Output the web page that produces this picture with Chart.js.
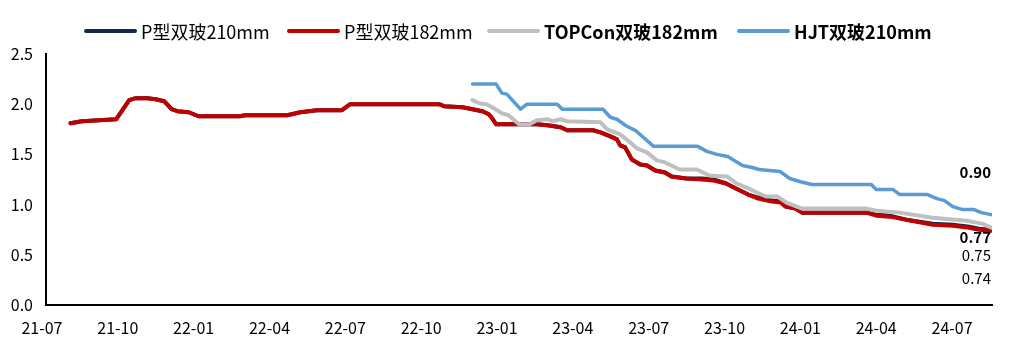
<!DOCTYPE html>
<html>
<head>
<meta charset="utf-8">
<script src="https://cdn.jsdelivr.net/npm/chart.js@4/dist/chart.umd.min.js"></script>
<style>
  html, body { margin: 0; padding: 0; background: #fff; }
  #wrap { width: 1015px; height: 344px; position: relative; }
</style>
</head>
<body>
<div id="wrap"><canvas id="c"></canvas></div>
<script>
// Series names (legend order)
const seriesNames = ['P型双玻210mm', 'P型双玻182mm', 'TOPCon双玻182mm', 'HJT双玻210mm'];

// Quarterly axis labels, starting at 2021-07
const tickLabels = ['21-07', '21-10', '22-01', '22-04', '22-07', '22-10', '23-01',
                    '23-04', '23-07', '23-10', '24-01', '24-04', '24-07'];

// P-type double-glass quotes (yuan/W), shared observation dates
const pDates = [
  '2021-08-05', '2021-08-19', '2021-09-29', '2021-10-15', '2021-10-23', '2021-11-06',
  '2021-11-16', '2021-11-26', '2021-12-05', '2021-12-12', '2021-12-26', '2022-01-07',
  '2022-02-24', '2022-03-02', '2022-04-22', '2022-05-08', '2022-05-28', '2022-06-27',
  '2022-07-07', '2022-10-23', '2022-10-29', '2022-11-20', '2022-12-02', '2022-12-14',
  '2022-12-22', '2022-12-26', '2022-12-31', '2023-02-17', '2023-03-01', '2023-03-17',
  '2023-03-25', '2023-04-25', '2023-05-04', '2023-05-16', '2023-05-24', '2023-05-28',
  '2023-06-03', '2023-06-11', '2023-06-21', '2023-06-29', '2023-07-09', '2023-07-21',
  '2023-07-29', '2023-08-16', '2023-09-04', '2023-09-18', '2023-10-03', '2023-10-15',
  '2023-10-30', '2023-11-11', '2023-11-27', '2023-12-08', '2023-12-14', '2023-12-26',
  '2024-01-03', '2024-03-20', '2024-04-01', '2024-04-17', '2024-05-07', '2024-06-08',
  '2024-07-02', '2024-07-22', '2024-08-03', '2024-08-18'
];
const p210Values = [
  1.81, 1.83, 1.85, 2.04, 2.06, 2.06,
  2.05, 2.03, 1.95, 1.93, 1.92, 1.88,
  1.88, 1.89, 1.89, 1.92, 1.94, 1.94,
  2.00, 2.00, 1.98, 1.97, 1.95, 1.93,
  1.90, 1.86, 1.80, 1.80, 1.79, 1.77,
  1.74, 1.74, 1.72, 1.68, 1.65, 1.59,
  1.57, 1.45, 1.40, 1.39, 1.34, 1.32,
  1.28, 1.26, 1.26, 1.25, 1.21, 1.16,
  1.10, 1.07, 1.04, 1.03, 0.98, 0.96,
  0.92, 0.92, 0.90, 0.89, 0.85, 0.81,
  0.80, 0.78, 0.76, 0.75
];
const p182Values = [
  1.81, 1.83, 1.85, 2.04, 2.06, 2.06,
  2.05, 2.03, 1.95, 1.93, 1.92, 1.88,
  1.88, 1.89, 1.89, 1.92, 1.94, 1.94,
  2.00, 2.00, 1.98, 1.97, 1.95, 1.93,
  1.90, 1.86, 1.80, 1.80, 1.79, 1.77,
  1.74, 1.74, 1.72, 1.68, 1.65, 1.59,
  1.57, 1.45, 1.40, 1.39, 1.34, 1.32,
  1.28, 1.26, 1.25, 1.24, 1.21, 1.16,
  1.10, 1.06, 1.03, 1.02, 0.98, 0.96,
  0.92, 0.92, 0.89, 0.88, 0.85, 0.80,
  0.79, 0.77, 0.75, 0.74
];

// TOPCon double-glass 182mm
const topconDates = [
  '2022-12-02', '2022-12-10', '2022-12-19', '2022-12-26', '2023-01-07', '2023-01-15',
  '2023-01-28', '2023-02-09', '2023-02-17', '2023-03-01', '2023-03-07', '2023-03-17',
  '2023-03-25', '2023-05-04', '2023-05-12', '2023-05-28', '2023-06-09', '2023-06-17',
  '2023-06-29', '2023-07-11', '2023-07-21', '2023-08-08', '2023-08-29', '2023-09-13',
  '2023-10-04', '2023-10-16', '2023-10-28', '2023-11-12', '2023-11-21', '2023-12-04',
  '2023-12-15', '2024-01-03', '2024-03-20', '2024-04-01', '2024-04-29', '2024-06-08',
  '2024-07-19', '2024-08-07', '2024-08-18'
];
const topconValues = [
  2.04, 2.01, 2.00, 1.97, 1.91, 1.89,
  1.80, 1.80, 1.84, 1.85, 1.83, 1.85,
  1.83, 1.82, 1.75, 1.70, 1.62, 1.56,
  1.52, 1.44, 1.42, 1.35, 1.35, 1.29,
  1.28, 1.21, 1.17, 1.11, 1.08, 1.08,
  1.02, 0.96, 0.96, 0.94, 0.92, 0.87,
  0.84, 0.81, 0.77
];

// HJT double-glass 210mm
const hjtDates = [
  '2022-12-02', '2022-12-31', '2023-01-07', '2023-01-13', '2023-01-30', '2023-02-06',
  '2023-03-13', '2023-03-19', '2023-05-07', '2023-05-16', '2023-05-24', '2023-06-05',
  '2023-06-15', '2023-07-07', '2023-08-30', '2023-09-10', '2023-09-22', '2023-10-05',
  '2023-10-23', '2023-11-04', '2023-11-12', '2023-12-07', '2023-12-19', '2023-12-31',
  '2024-01-15', '2024-03-26', '2024-04-01', '2024-04-21', '2024-04-29', '2024-06-02',
  '2024-06-13', '2024-06-22', '2024-07-02', '2024-07-14', '2024-07-28', '2024-08-06',
  '2024-08-18'
];
const hjtValues = [
  2.20, 2.20, 2.11, 2.10, 1.95, 2.00,
  2.00, 1.95, 1.95, 1.87, 1.85, 1.78,
  1.74, 1.58, 1.58, 1.53, 1.50, 1.48,
  1.39, 1.37, 1.35, 1.33, 1.26, 1.23,
  1.20, 1.20, 1.15, 1.15, 1.10, 1.10,
  1.06, 1.04, 0.98, 0.95, 0.95, 0.92,
  0.90
];

// Convert 'YYYY-MM-DD' to fractional months since 2021-07-01
function toMonths(s) {
  const [y, m, d] = s.split('-').map(Number);
  const dim = new Date(y, m, 0).getDate();
  return (y - 2021) * 12 + (m - 7) + (d - 1) / dim;
}
function toPoints(dates, values) {
  return dates.map((d, i) => ({ x: toMonths(d), y: values[i] }));
}

const FONT = '"Noto Sans CJK SC", "Noto Sans", sans-serif';
const colors = ['#0F2A4E', '#C00000', '#BFBFBF', '#5B9BD5'];

// Legend drawn on canvas so that individual entries can be bold
const legendPlugin = {
  id: 'customLegend',
  afterDraw(chart, args, opts) {
    const ctx = chart.ctx;
    ctx.save();
    chart.data.datasets.forEach((ds, i) => {
      const x0 = opts.starts[i];
      const y = opts.y;
      ctx.strokeStyle = ds.borderColor;
      ctx.lineWidth = 4;
      ctx.lineCap = 'round';
      ctx.beginPath();
      ctx.moveTo(x0 + 2, y);
      ctx.lineTo(x0 + opts.lineLen - 2, y);
      ctx.stroke();
      ctx.font = (opts.bold[i] ? 'bold ' : '') + opts.size + 'px ' + FONT;
      ctx.fillStyle = '#000';
      ctx.textBaseline = 'middle';
      ctx.textAlign = 'left';
      ctx.fillText(ds.label, x0 + opts.lineLen + opts.gap, y + 1);
    });
    ctx.restore();
  }
};

// Last-value labels near the right edge
const endLabelPlugin = {
  id: 'endLabels',
  afterDatasetsDraw(chart, args, opts) {
    const ctx = chart.ctx;
    ctx.save();
    chart.data.datasets.forEach((ds, i) => {
      const meta = chart.getDatasetMeta(i);
      const last = meta.data[meta.data.length - 1];
      const val = ds.data[ds.data.length - 1].y;
      ctx.font = (opts.bold[i] ? 'bold ' : '') + opts.size + 'px ' + FONT;
      ctx.fillStyle = '#000';
      ctx.textAlign = 'right';
      ctx.textBaseline = 'middle';
      ctx.fillText(val.toFixed(2), chart.chartArea.right - 1, last.y + opts.dy[i]);
    });
    ctx.restore();
  }
};

const datasets = [
  { label: seriesNames[0], data: toPoints(pDates, p210Values), borderColor: colors[0], borderWidth: 4, order: 4 },
  { label: seriesNames[1], data: toPoints(pDates, p182Values), borderColor: colors[1], borderWidth: 4, order: 3 },
  { label: seriesNames[2], data: toPoints(topconDates, topconValues), borderColor: colors[2], borderWidth: 4, order: 2 },
  { label: seriesNames[3], data: toPoints(hjtDates, hjtValues), borderColor: colors[3], borderWidth: 3.5, order: 1 }
].map(d => Object.assign(d, {
  backgroundColor: d.borderColor,
  pointRadius: 0,
  tension: 0,
  fill: false,
  borderJoinStyle: 'round',
  borderCapStyle: 'round'
}));

new Chart(document.getElementById('c'), {
  type: 'line',
  data: { datasets },
  plugins: [legendPlugin, endLabelPlugin],
  options: {
    responsive: true,
    maintainAspectRatio: false,
    animation: false,
    layout: { padding: { top: 54, right: 23, bottom: 0, left: 0 } },
    plugins: {
      legend: { display: false },
      tooltip: { enabled: false },
      customLegend: {
        starts: [84, 287, 487, 737],
        lineLen: 53,
        gap: 4,
        y: 31,
        size: 18,
        bold: [false, false, true, true]
      },
      endLabels: {
        size: 15,
        bold: [false, false, true, true],
        dy: [26, 48, 10, -42]
      }
    },
    scales: {
      x: {
        type: 'linear',
        min: 0.16,
        max: 37.58,
        afterBuildTicks: (scale) => {
          scale.ticks = tickLabels.map((_, i) => ({ value: i * 3 }));
        },
        afterFit: (scale) => { scale.height = 39; },
        grid: { display: false, drawTicks: false },
        border: { display: true, color: '#000', width: 2 },
        ticks: {
          autoSkip: false,
          maxRotation: 0,
          padding: 13,
          color: '#000',
          font: { family: FONT, size: 16 },
          callback: (v) => tickLabels[Math.round(v / 3)]
        }
      },
      y: {
        min: 0,
        max: 2.5,
        afterFit: (scale) => { scale.width = 46; },
        grid: { display: false, drawTicks: false },
        border: { display: true, color: '#000', width: 2 },
        ticks: {
          stepSize: 0.5,
          padding: 13,
          color: '#000',
          font: { family: FONT, size: 16 },
          callback: (v) => Number(v).toFixed(1)
        }
      }
    }
  }
});
</script>
</body>
</html>
